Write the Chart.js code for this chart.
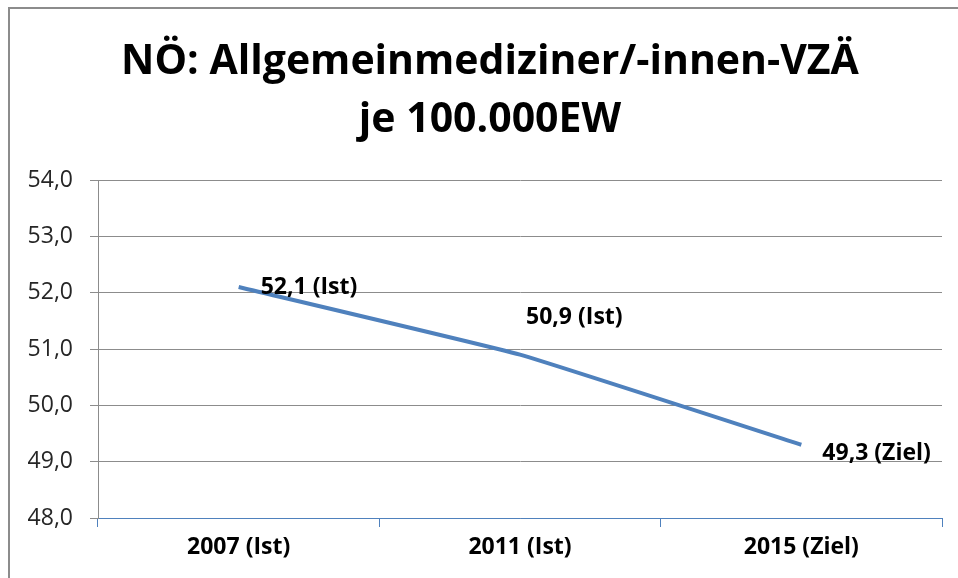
<!DOCTYPE html>
<html>
<head>
<meta charset="utf-8">
<script src="https://cdn.jsdelivr.net/npm/chart.js@4"></script>
<style>
  html, body { margin: 0; padding: 0; background: #fff; overflow: hidden; }
  #wrap { position: relative; width: 958px; height: 578px; }
  #frame { position: absolute; left: 8px; top: 7px; width: 1000px; height: 640px; border: 2px solid #8c8c8c; box-sizing: border-box; }
  canvas { position: absolute; left: 0; top: 0; }
</style>
</head>
<body>
<div id="wrap">
  <div id="frame"></div>
  <canvas id="myChart" width="958" height="578"></canvas>
</div>
<script>
// data
var years = ["2007 (Ist)", "2011 (Ist)", "2015 (Ziel)"];
var values = [52.1, 50.9, 49.3];
var valueTags = ["Ist", "Ist", "Ziel"];
var titleLines = ["NÖ: Allgemeinmediziner/-innen-VZÄ", "je 100.000EW"];

var FONT = "'Open Sans', sans-serif";

function fmt(v) {
  return v.toFixed(1).replace(".", ",");
}

// where each value label sits next to its point
var labelOffsets = [[22, 0], [6, -37], [21, 9]];

var valueLabels = {
  id: "valueLabels",
  afterDatasetsDraw: function(chart) {
    var ctx = chart.ctx;
    var meta = chart.getDatasetMeta(0);
    ctx.save();
    ctx.font = "bold 23px " + FONT;
    ctx.fillStyle = "#000";
    ctx.textAlign = "left";
    ctx.textBaseline = "middle";
    meta.data.forEach(function(pt, i) {
      var off = labelOffsets[i];
      ctx.fillText(fmt(values[i]) + " (" + valueTags[i] + ")", pt.x + off[0], pt.y + off[1]);
    });
    ctx.restore();
  }
};

// title is centred on the framed box, not on the canvas
var boxTitle = {
  id: "boxTitle",
  afterDraw: function(chart) {
    var ctx = chart.ctx;
    ctx.save();
    ctx.font = "bold 41px " + FONT;
    ctx.fillStyle = "#000";
    ctx.textAlign = "center";
    ctx.textBaseline = "middle";
    titleLines.forEach(function(line, i) {
      ctx.fillText(line, 490, 62 + i * 58);
    });
    ctx.restore();
  }
};

var ctx = document.getElementById("myChart").getContext("2d");
var chart = new Chart(ctx, {
  type: "line",
  data: {
    labels: years,
    datasets: [{
      label: "VZÄ je 100.000EW",
      data: values,
      borderColor: "#4f81bd",
      borderWidth: 4,
      pointRadius: 0,
      tension: 0.1,
      fill: false
    }]
  },
  options: {
    responsive: false,
    animation: false,
    layout: { padding: { left: 0, right: 16, top: 180, bottom: 0 } },
    plugins: {
      legend: { display: false },
      tooltip: { enabled: false },
      title: { display: false }
    },
    scales: {
      x: {
        offset: true,
        grid: { offset: true, drawOnChartArea: false, drawTicks: true, tickLength: 9, color: "#4f81bd" },
        border: { color: "#4f81bd", width: 1 },
        ticks: { color: "#000", padding: 7, font: { family: FONT, size: 23, weight: "bold" } },
        afterFit: function(s) { s.height = 60; }
      },
      y: {
        min: 48,
        max: 54,
        grid: { color: "#8c8c8c", lineWidth: 1, tickLength: 8 },
        border: { color: "#8c8c8c", width: 1 },
        ticks: {
          stepSize: 1,
          color: "#262626",
          padding: 17,
          font: { family: FONT, size: 23 },
          callback: function(v) { return fmt(v); }
        },
        afterFit: function(s) { s.width = 98; }
      }
    }
  },
  plugins: [valueLabels, boxTitle]
});
</script>
</body>
</html>
